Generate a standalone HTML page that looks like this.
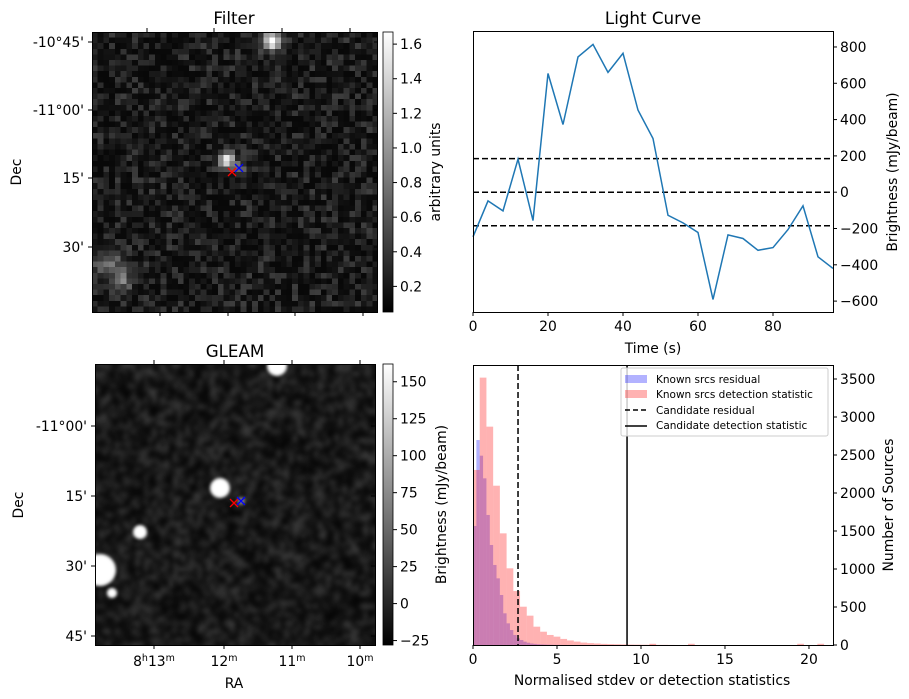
<!DOCTYPE html>
<html><head><meta charset="utf-8"><style>
body{margin:0;background:#fff;}
#wrap{position:relative;width:909px;height:699px;font-family:"DejaVu Sans","Liberation Sans",sans-serif;}
canvas{position:absolute;}
svg{position:absolute;left:0;top:0;}
text{font-family:"DejaVu Sans","Liberation Sans",sans-serif;fill:#000;}
</style></head><body>
<div id="wrap">
<canvas id="filterImg" width="50" height="50" style="left:92px;top:32px;width:286px;height:280px;image-rendering:pixelated"></canvas>
<canvas id="gleamImg" width="280" height="281" style="left:95px;top:364px;width:280px;height:281px"></canvas>
<svg id="svg" width="909" height="699">
<defs><linearGradient id="gray" x1="0" y1="1" x2="0" y2="0"><stop offset="0" stop-color="#000"/><stop offset="1" stop-color="#fff"/></linearGradient></defs>
</svg>
</div>
<script>
// ---- data ----
const lcTimes=[0,4,8,12,16,20,24,28,32,36,40,44,48,52,56,60,64,68,72,76,80,84,88,92,96];
const lcValues=[-246,-48,-103,182,-156,654,373,745,814,660,765,452,296,-127,-169,-222,-591,-235,-255,-320,-305,-206,-75,-356,-420];
const lcThresholds=[185,0,-185];
const lcYTicks=[-600,-400,-200,0,200,400,600,800];
const lcXTicks=[0,20,40,60,80];
const redBinWidth=0.4;
const redCounts=[2303,3518,2873,2096,1469,1009,710,504,386,241,175,132,110,80,60,45,32,25,20,15,12,10,8,6,5,4,3,2,2,1];
const blueBinWidth=0.2;
const blueCounts=[1566,2697,2491,2193,1711,1316,1053,877,658,417,285,197,132,88,66,44,30,20,15,10,8,6,4,3,2,2,1,1];
const candResidual=2.68;
const candDetection=9.17;
const histXTicks=[0,5,10,15,20];
const histYTicks=[0,500,1000,1500,2000,2500,3000,3500];
const filterCbTicks=[0.2,0.4,0.6,0.8,1.0,1.2,1.4,1.6];
const gleamCbTicks=[-25,0,25,50,75,100,125,150];

const svg=document.getElementById('svg');
const NS='http://www.w3.org/2000/svg';
const FS=13.9;
function mk(tag,attrs,parent){const e=document.createElementNS(NS,tag);for(const k in attrs)e.setAttribute(k,attrs[k]);(parent||svg).appendChild(e);return e;}
function txt(x,y,s,opts){const e=mk('text',Object.assign({x:x,y:y,'font-size':FS},opts||{}));e.textContent=s;return e;}

// ---- images (noise textures) ----
let seed=12345;function rnd(){seed=(seed*1103515245+12345)%2147483648;return seed/2147483648;}
(function(){const c=document.getElementById('filterImg').getContext('2d');const im=c.createImageData(50,50);
const blobs=[[31,1,1.5,1.6],[23,22.5,1.3,1.4],[25.5,24,0.7,1.0],[2.5,41,0.5,2.5],[5,44,0.5,1.5]];
for(let j=0;j<50;j++)for(let i=0;i<50;i++){let v=0.1+0.35*Math.pow(rnd(),2.2);
for(const b of blobs){const d=((i-b[0])**2+(j-b[1])**2)/(b[3]*b[3]);v+=b[2]*Math.exp(-d);}
const g=Math.max(0,Math.min(255,(v-0.05)/1.6*255));const k=(j*50+i)*4;im.data[k]=im.data[k+1]=im.data[k+2]=g;im.data[k+3]=255;}
c.putImageData(im,0,0);})();
(function(){const cv=document.getElementById('gleamImg');const c=cv.getContext('2d');
const t=document.createElement('canvas');t.width=70;t.height=70;const tc=t.getContext('2d');const im=tc.createImageData(70,70);
for(let k=0;k<70*70;k++){const g=5+60*Math.pow(rnd(),1.8);im.data[k*4]=im.data[k*4+1]=im.data[k*4+2]=g;im.data[k*4+3]=255;}
tc.putImageData(im,0,0);c.imageSmoothingEnabled=true;c.filter='blur(2px)';c.drawImage(t,-5,-5,290,291);c.filter='blur(1.5px)';
c.fillStyle='#fff';
[[182,2,10],[125,124,10],[45,168,7],[5,206,16],[17,229,5]].forEach(b=>{c.beginPath();c.arc(b[0],b[1],b[2],0,Math.PI*2);c.fill();});
c.fillStyle='rgba(150,150,150,0.8)';c.beginPath();c.arc(146,137,4,0,7);c.fill();c.filter='none';})();

// ---- image axes ----
function frame(x,y,w,h,name){mk('rect',{x:x,y:y,width:w,height:h,fill:'none',stroke:'#000','stroke-width':1,});}
frame(92.5,32.5,285,280,'filter-frame');frame(95.5,364.5,280,281,'gleam-frame');
txt(234,24,'Filter',{'font-size':16.7,'text-anchor':'middle',});
txt(235,357,'GLEAM',{'font-size':16.7,'text-anchor':'middle',});
[[42,"-10°45'"],[110,"-11°00'"],[178,"15'"],[247,"30'"]].forEach(d=>{mk('line',{x1:88,x2:92,y1:d[0],y2:d[0],stroke:'#000'});txt(84,d[0]+5,d[1],{'text-anchor':'end',});mk('line',{x1:378,x2:374,y1:d[0],y2:d[0],stroke:'#000'});});
[160,228,295,363].forEach(x=>mk('line',{x1:x,x2:x,y1:312,y2:316,stroke:'#000'}));
[147,214,282,350].forEach(x=>mk('line',{x1:x,x2:x,y1:32,y2:28,stroke:'#000'}));
txt(21,172,'Dec',{'text-anchor':'middle',transform:'rotate(-90 21 172)',});
[[426,"-11°00'"],[496,"15'"],[566,"30'"],[636,"45'"]].forEach(d=>{mk('line',{x1:91,x2:95,y1:d[0],y2:d[0],stroke:'#000'});txt(87,d[0]+5,d[1],{'text-anchor':'end',});mk('line',{x1:375,x2:371,y1:d[0],y2:d[0],stroke:'#000'});});
[[154,'8','13'],[224,'','12'],[292,'','11'],[360,'','10']].forEach(d=>{mk('line',{x1:d[0],x2:d[0],y1:645,y2:649,stroke:'#000'});mk('line',{x1:d[0],x2:d[0],y1:364,y2:360,stroke:'#000'});
const t=mk('text',{x:d[0],y:666,'font-size':FS,'text-anchor':'middle',});
t.innerHTML=(d[1]?d[1]+'<tspan font-size="9.5" dy="-5">h</tspan><tspan dy="5">'+d[2]+'</tspan>':d[2])+'<tspan font-size="9.5" dy="-5">m</tspan>';});
txt(234,688,'RA',{'text-anchor':'middle',});
txt(23,505,'Dec',{'text-anchor':'middle',transform:'rotate(-90 23 505)',});
// markers
function xm(cx,cy,col){mk('path',{d:`M${cx-4} ${cy-4}L${cx+4} ${cy+4}M${cx-4} ${cy+4}L${cx+4} ${cy-4}`,stroke:col,'stroke-width':1.3,});}
xm(232,172,'red');xm(239,168,'blue');xm(234,503,'red');xm(241,501,'blue');
// colorbars
function cbar(y0,y1,ticks,vmin,vmax,label,lx,name,fmt){mk('rect',{x:383,y:y0,width:10,height:y1-y0,fill:'url(#gray)',stroke:'#000','stroke-width':0.8,});
ticks.forEach(v=>{const y=y1-(v-vmin)/(vmax-vmin)*(y1-y0);mk('line',{x1:393,x2:397,y1:y,y2:y,stroke:'#000'});txt(400,y+5,fmt(v),{});});
txt(lx,(y0+y1)/2,label,{'text-anchor':'middle',transform:`rotate(-90 ${lx} ${(y0+y1)/2})`,});}
cbar(32,312,filterCbTicks,0.052,1.67,'arbitrary units',440,'filter-colorbar',v=>v.toFixed(1));
cbar(364,645,gleamCbTicks,-28,162,'Brightness (mJy/beam)',446,'gleam-colorbar',v=>v<0?'−'+(-v):''+v);

// ---- light curve ----
const L={x0:473,x1:833,y0:31,y1:312,tmin:0,tmax:96,vmin:-660,vmax:888};
const lx=t=>L.x0+(t-L.tmin)/(L.tmax-L.tmin)*(L.x1-L.x0);
const ly=v=>L.y1-(v-L.vmin)/(L.vmax-L.vmin)*(L.y1-L.y0);
txt(653,24,'Light Curve',{'font-size':16.7,'text-anchor':'middle',});
lcThresholds.forEach(v=>mk('line',{x1:L.x0,x2:L.x1,y1:ly(v),y2:ly(v),stroke:'#000','stroke-width':1.5,'stroke-dasharray':'6,3',}));
mk('polyline',{points:lcTimes.map((t,i)=>lx(t)+','+ly(lcValues[i])).join(' '),fill:'none',stroke:'#1f77b4','stroke-width':1.5,});
mk('rect',{x:L.x0+0.5,y:L.y0+0.5,width:L.x1-L.x0,height:L.y1-L.y0,fill:'none',stroke:'#000',});
lcXTicks.forEach(t=>{mk('line',{x1:lx(t),x2:lx(t),y1:L.y1,y2:L.y1+4,stroke:'#000'});txt(lx(t),L.y1+19,''+t,{'text-anchor':'middle',});});
lcYTicks.forEach(v=>{mk('line',{x1:L.x1,x2:L.x1+4,y1:ly(v),y2:ly(v),stroke:'#000'});txt(L.x1+7,ly(v)+5,v<0?'−'+(-v):''+v,{});});
txt(653,353,'Time (s)',{'text-anchor':'middle',});
txt(897,172,'Brightness (mJy/beam)',{'text-anchor':'middle',transform:'rotate(-90 897 172)',});

// ---- histogram ----
const H={x0:473,x1:833,y0:365,y1:645,xmin:0,xmax:21.43,cmax:3684};
const hx=v=>H.x0+(v-H.xmin)/(H.xmax-H.xmin)*(H.x1-H.x0);
const hy=c=>H.y1-c/H.cmax*(H.y1-H.y0);
blueCounts.forEach((c,i)=>mk('rect',{x:hx(i*blueBinWidth),y:hy(c),width:hx((i+1)*blueBinWidth)-hx(i*blueBinWidth),height:H.y1-hy(c),fill:'rgba(0,0,255,0.3)',}));
redCounts.forEach((c,i)=>mk('rect',{x:hx(i*redBinWidth),y:hy(c),width:hx((i+1)*redBinWidth)-hx(i*redBinWidth),height:H.y1-hy(c),fill:'rgba(255,0,0,0.3)',}));
[[10.5,3],[12.8,3],[19.3,3],[20.5,3]].forEach(b=>mk('rect',{x:hx(b[0]),y:hy(b[1])-1,width:hx(0.4)-hx(0),height:H.y1-hy(b[1])+1,fill:'rgba(255,0,0,0.3)',}));
mk('line',{x1:hx(candResidual),x2:hx(candResidual),y1:H.y0,y2:H.y1,stroke:'#000','stroke-width':1.5,'stroke-dasharray':'6,3',});
mk('line',{x1:hx(candDetection),x2:hx(candDetection),y1:H.y0,y2:H.y1,stroke:'#000','stroke-width':1.5,});
mk('rect',{x:H.x0+0.5,y:H.y0+0.5,width:H.x1-H.x0,height:H.y1-H.y0,fill:'none',stroke:'#000',});
histXTicks.forEach(v=>{mk('line',{x1:hx(v),x2:hx(v),y1:H.y1,y2:H.y1+4,stroke:'#000'});txt(hx(v),H.y1+19,''+v,{'text-anchor':'middle',});});
histYTicks.forEach(v=>{mk('line',{x1:H.x1,x2:H.x1+4,y1:hy(v),y2:hy(v),stroke:'#000'});txt(H.x1+7,hy(v)+5,''+v,{});});
txt(652,685,'Normalised stdev or detection statistics',{'text-anchor':'middle',});
txt(893,505,'Number of Sources',{'text-anchor':'middle',transform:'rotate(-90 893 505)',});
// legend
const lg=mk('g',{});
mk('rect',{x:621,y:368,width:207,height:68,rx:2,fill:'rgba(255,255,255,0.8)',stroke:'#ccc'},lg);
mk('rect',{x:625,y:375,width:22,height:8,fill:'rgba(0,0,255,0.3)'},lg);
mk('rect',{x:625,y:390,width:22,height:8,fill:'rgba(255,0,0,0.3)'},lg);
mk('line',{x1:625,x2:647,y1:410,y2:410,stroke:'#000','stroke-width':1.5,'stroke-dasharray':'5,3'},lg);
mk('line',{x1:625,x2:647,y1:426,y2:426,stroke:'#000','stroke-width':1.5},lg);
[['Known srcs residual',383],['Known srcs detection statistic',398],['Candidate residual',414],['Candidate detection statistic',429]].forEach(d=>txt(656,d[1],d[0],{'font-size':10.5,}));
</script>
</body></html>
